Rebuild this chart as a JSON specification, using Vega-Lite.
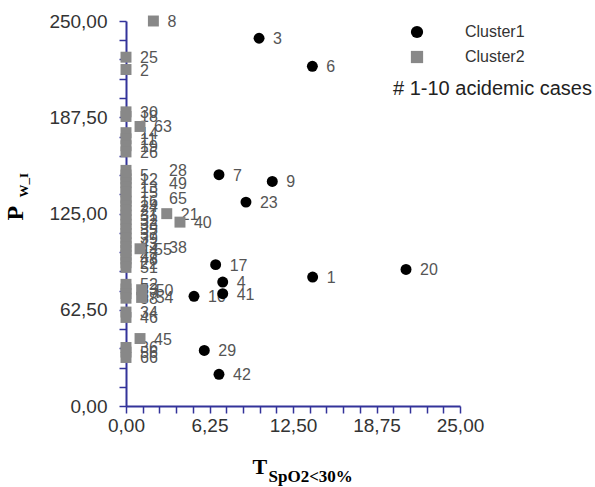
{
  "$schema": "https://vega.github.io/schema/vega-lite/v6.json",
  "width": 334,
  "height": 385,
  "autosize": {"type": "none"},
  "padding": {"left": 126, "top": 21, "right": 135, "bottom": 81},
  "background": "white",
  "config": {"view": {"stroke": null}, "axis": {"grid": false}},
  "data": {
    "values": [
      {"x": 13.97, "y": 83.7, "id": "1", "cluster": "Cluster1"},
      {"x": 9.96, "y": 238.8, "id": "3", "cluster": "Cluster1"},
      {"x": 7.24, "y": 80.5, "id": "4", "cluster": "Cluster1"},
      {"x": 13.95, "y": 220.6, "id": "6", "cluster": "Cluster1"},
      {"x": 6.96, "y": 150.2, "id": "7", "cluster": "Cluster1"},
      {"x": 10.95, "y": 145.8, "id": "9", "cluster": "Cluster1"},
      {"x": 5.09, "y": 71.2, "id": "10", "cluster": "Cluster1"},
      {"x": 6.71, "y": 91.8, "id": "17", "cluster": "Cluster1"},
      {"x": 20.96, "y": 88.7, "id": "20", "cluster": "Cluster1"},
      {"x": 8.98, "y": 132.4, "id": "23", "cluster": "Cluster1"},
      {"x": 5.86, "y": 36.1, "id": "29", "cluster": "Cluster1"},
      {"x": 7.24, "y": 72.9, "id": "41", "cluster": "Cluster1"},
      {"x": 6.96, "y": 20.6, "id": "42", "cluster": "Cluster1"},
      {"x": 2.05, "y": 250, "id": "8", "cluster": "Cluster2"},
      {"x": 0, "y": 226.5, "id": "25", "cluster": "Cluster2"},
      {"x": 0, "y": 218.5, "id": "2", "cluster": "Cluster2"},
      {"x": 0, "y": 191, "id": "30", "cluster": "Cluster2"},
      {"x": 0, "y": 188, "id": "18", "cluster": "Cluster2"},
      {"x": 1.05, "y": 181.5, "id": "63", "cluster": "Cluster2"},
      {"x": 0, "y": 177.5, "id": "14", "cluster": "Cluster2"},
      {"x": 0, "y": 173.5, "id": "11", "cluster": "Cluster2"},
      {"x": 0, "y": 169, "id": "19", "cluster": "Cluster2"},
      {"x": 0, "y": 165, "id": "26", "cluster": "Cluster2"},
      {"x": 0, "y": 153, "id": "28", "cluster": "Cluster2"},
      {"x": 0, "y": 150, "id": "5", "cluster": "Cluster2"},
      {"x": 0, "y": 147.5, "id": "12", "cluster": "Cluster2"},
      {"x": 0, "y": 145, "id": "49", "cluster": "Cluster2"},
      {"x": 0, "y": 142, "id": "13", "cluster": "Cluster2"},
      {"x": 0, "y": 139, "id": "15", "cluster": "Cluster2"},
      {"x": 0, "y": 135, "id": "65", "cluster": "Cluster2"},
      {"x": 0, "y": 133, "id": "16", "cluster": "Cluster2"},
      {"x": 0, "y": 130, "id": "24", "cluster": "Cluster2"},
      {"x": 0, "y": 127, "id": "27", "cluster": "Cluster2"},
      {"x": 0, "y": 124, "id": "31", "cluster": "Cluster2"},
      {"x": 0, "y": 121, "id": "32", "cluster": "Cluster2"},
      {"x": 0, "y": 118, "id": "33", "cluster": "Cluster2"},
      {"x": 0, "y": 115, "id": "35", "cluster": "Cluster2"},
      {"x": 0, "y": 112, "id": "37", "cluster": "Cluster2"},
      {"x": 0, "y": 109, "id": "39", "cluster": "Cluster2"},
      {"x": 0, "y": 106, "id": "43", "cluster": "Cluster2"},
      {"x": 0, "y": 103.5, "id": "38", "cluster": "Cluster2"},
      {"x": 0, "y": 101, "id": "44", "cluster": "Cluster2"},
      {"x": 0, "y": 98, "id": "47", "cluster": "Cluster2"},
      {"x": 0, "y": 95.5, "id": "48", "cluster": "Cluster2"},
      {"x": 0, "y": 93, "id": "22", "cluster": "Cluster2"},
      {"x": 0, "y": 90, "id": "51", "cluster": "Cluster2"},
      {"x": 3.05, "y": 124.9, "id": "21", "cluster": "Cluster2"},
      {"x": 4.04, "y": 119.4, "id": "40", "cluster": "Cluster2"},
      {"x": 1.05, "y": 102.1, "id": "55", "cluster": "Cluster2"},
      {"x": 0, "y": 79, "id": "52", "cluster": "Cluster2"},
      {"x": 0, "y": 76, "id": "53", "cluster": "Cluster2"},
      {"x": 0, "y": 73, "id": "57", "cluster": "Cluster2"},
      {"x": 0, "y": 70, "id": "58", "cluster": "Cluster2"},
      {"x": 1.17, "y": 75.5, "id": "50", "cluster": "Cluster2"},
      {"x": 1.17, "y": 70.5, "id": "54", "cluster": "Cluster2"},
      {"x": 0, "y": 61, "id": "34", "cluster": "Cluster2"},
      {"x": 0, "y": 57.5, "id": "46", "cluster": "Cluster2"},
      {"x": 1.05, "y": 43.8, "id": "45", "cluster": "Cluster2"},
      {"x": 0, "y": 38, "id": "36", "cluster": "Cluster2"},
      {"x": 0, "y": 35, "id": "56", "cluster": "Cluster2"},
      {"x": 0, "y": 31.5, "id": "66", "cluster": "Cluster2"}
    ]
  },
  "layer": [
    {
      "encoding": {
        "x": {
          "field": "x", "type": "quantitative",
          "scale": {"domain": [0, 25], "nice": false, "zero": false},
          "axis": {
            "orient": "top", "title": "SpO2<30%", "domain": false, "ticks": false, "labels": false, "grid": false,
            "titleFont": "Liberation Serif", "titleFontWeight": "bold", "titleFontSize": 17, "titleColor": "#000",
            "titleAlign": "left", "titleBaseline": "alphabetic", "titleAngle": 0, "titleX": 142, "titleY": 460
          }
        },
        "y": {
          "field": "y", "type": "quantitative",
          "scale": {"domain": [0, 250], "nice": false, "zero": false},
          "axis": {
            "orient": "right", "title": "W_I", "domain": false, "ticks": false, "labels": false, "grid": false,
            "titleFont": "Liberation Serif", "titleFontWeight": "bold", "titleFontSize": 13, "titleColor": "#000",
            "titleAlign": "left", "titleBaseline": "alphabetic", "titleAngle": 270, "titleX": -433, "titleY": 176
          }
        },
        "text": {"field": "id"}
      },
      "layer": [
        {
          "transform": [{"filter": {"not": {"field": "id", "oneOf": ["28", "49", "65", "38"]}}}],
          "mark": {"type": "text", "align": "left", "baseline": "middle", "dx": 14, "dy": 1, "font": "Liberation Sans", "fontSize": 16, "color": "#555"}
        },
        {
          "transform": [{"filter": {"field": "id", "oneOf": ["28", "49", "65", "38"]}}],
          "mark": {"type": "text", "align": "left", "baseline": "middle", "dx": 43, "dy": 1, "font": "Liberation Sans", "fontSize": 16, "color": "#555"}
        }
      ]
    },
    {
      "mark": {"type": "point", "filled": true, "size": 120, "opacity": 1, "strokeWidth": 0},
      "encoding": {
        "x": {
          "field": "x", "type": "quantitative",
          "scale": {"domain": [0, 25], "nice": false, "zero": false},
          "axis": {
            "values": [0, 1.25, 2.5, 3.75, 5, 6.25, 7.5, 8.75, 10, 11.25, 12.5, 13.75, 15, 16.25, 17.5, 18.75, 20, 21.25, 22.5, 23.75, 25],
            "labelExpr": "datum.value % 6.25 === 0 ? replace(format(datum.value, '.2f'), '.', ',') : ''",
            "labelOverlap": false, "labelFlush": false, "labelBound": false,
            "labelFont": "Liberation Sans", "labelFontSize": 19, "labelColor": "#333", "labelPadding": 3,
            "domainColor": "#33339a", "domainWidth": 2, "tickColor": "#33339a", "tickWidth": 1.5, "tickSize": 7,
            "title": "T", "titleFont": "Liberation Serif", "titleFontWeight": "bold", "titleFontSize": 22, "titleColor": "#000",
            "titleAlign": "left", "titleBaseline": "alphabetic", "titleX": 126, "titleY": 67
          }
        },
        "y": {
          "field": "y", "type": "quantitative",
          "scale": {"domain": [0, 250], "nice": false, "zero": false},
          "axis": {
            "values": [0, 12.5, 25, 37.5, 50, 62.5, 75, 87.5, 100, 112.5, 125, 137.5, 150, 162.5, 175, 187.5, 200, 212.5, 225, 237.5, 250],
            "labelExpr": "datum.value % 62.5 === 0 ? replace(format(datum.value, '.2f'), '.', ',') : ''",
            "labelOverlap": false, "labelFlush": false, "labelBound": false,
            "labelFont": "Liberation Sans", "labelFontSize": 19, "labelColor": "#333", "labelPadding": 12,
            "domainColor": "#33339a", "domainWidth": 2, "tickColor": "#33339a", "tickWidth": 1.5, "tickSize": 7,
            "title": "P", "titleFont": "Liberation Serif", "titleFontWeight": "bold", "titleFontSize": 24, "titleColor": "#000",
            "titleAlign": "left", "titleBaseline": "alphabetic", "titleAngle": 270, "titleX": -104, "titleY": 199
          }
        },
        "color": {
          "field": "cluster", "type": "nominal",
          "scale": {"domain": ["Cluster1", "Cluster2"], "range": ["#000000", "#888888"]},
          "legend": {
            "orient": "none", "legendX": 267, "legendY": 3, "title": "# 1-10 acidemic cases", "titleOrient": "bottom", "titleLimit": 400,
            "titleFont": "Liberation Sans", "titleFontSize": 20, "titleFontWeight": "normal", "titleColor": "#222", "titlePadding": 14,
            "labelFont": "Liberation Sans", "labelFontSize": 16, "labelColor": "#333", "labelOffset": 40,
            "symbolOffset": 16, "symbolSize": 150, "rowPadding": 9, "symbolStrokeWidth": 0
          }
        },
        "shape": {
          "field": "cluster", "type": "nominal",
          "scale": {"domain": ["Cluster1", "Cluster2"], "range": ["circle", "square"]},
          "legend": {
            "orient": "none", "legendX": 267, "legendY": 3, "title": "# 1-10 acidemic cases", "titleOrient": "bottom", "titleLimit": 400,
            "titleFont": "Liberation Sans", "titleFontSize": 20, "titleFontWeight": "normal", "titleColor": "#222", "titlePadding": 14,
            "labelFont": "Liberation Sans", "labelFontSize": 16, "labelColor": "#333", "labelOffset": 40,
            "symbolOffset": 16, "symbolSize": 150, "rowPadding": 9, "symbolStrokeWidth": 0
          }
        }
      }
    }
  ],
  "resolve": {"scale": {"x": "independent", "y": "independent"}}
}
